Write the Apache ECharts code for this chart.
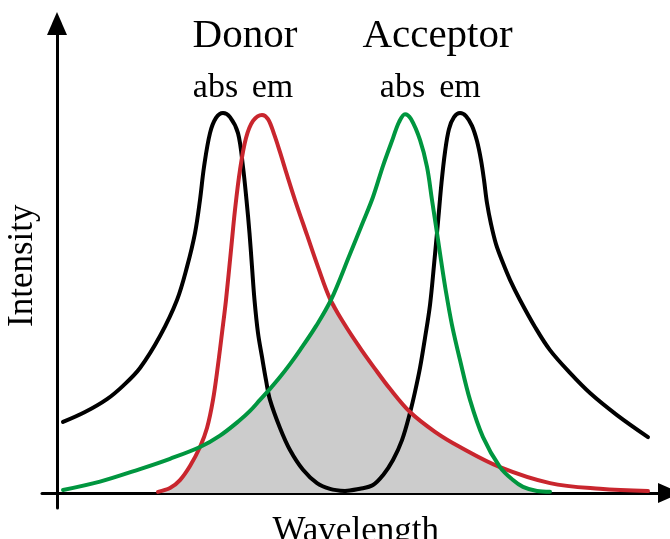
<!DOCTYPE html>
<html>
<head>
<meta charset="utf-8">
<script src="https://cdn.jsdelivr.net/npm/echarts@6/dist/echarts.min.js"></script>
<style>
  html, body { margin: 0; padding: 0; background: #ffffff; }
  #chart { width: 670px; height: 539px; }
</style>
</head>
<body>
<div id="chart"></div>
<script>
// Spectra as [wavelength (arb. units), normalised intensity]
const donorAbs = [
  [6, 18.7], [28, 21.3], [50, 24.7], [66, 28.2], [83, 32.9], [103, 41.3], [120, 50.8],
  [130, 59.5], [138, 68.4], [143, 77.1], [147, 85.8], [153, 94.7], [159, 98.7], [166, 100],
  [173, 98.9], [181, 94.7], [186, 85.8], [189.5, 77.1], [192.5, 68.4], [195, 59.5],
  [197.5, 50.8], [201, 42.1], [205, 35.8], [209, 29.7], [213, 24.5], [223, 17.1],
  [233, 11.3], [246, 6.1], [260, 2.6], [273, 1.1], [288, 0.5]
];
const donorEm = [
  [101, 0.3], [113, 1.3], [123, 3.4], [133, 7.1], [143, 12.1], [150, 17.1], [156, 24.5],
  [161, 33.7], [165, 42.1], [169, 50.8], [174, 63.9], [178, 74.5], [183, 85.0], [189, 93.4],
  [196, 97.9], [205, 99.5], [211, 98.4], [217, 94.5], [223, 89.7], [230, 83.7], [238, 77.1],
  [250, 67.9], [261, 59.5], [273, 51.1], [288, 44.2], [303, 38.2], [316, 33.4], [333, 27.4],
  [353, 21.3], [378, 16.1], [403, 12.1], [443, 6.8], [493, 2.6], [543, 1.1], [591, 0.5]
];
const acceptorAbs = [
  [6, 0.8], [43, 3.0], [83, 6.3], [113, 9.0], [143, 12.1], [163, 15.1], [183, 19.2],
  [193, 21.6], [203, 24.5], [213, 27.4], [223, 30.5], [233, 33.9], [243, 37.6], [259, 43.9],
  [274, 50.8], [293, 62.9], [306, 71.3], [316, 77.9], [326, 86.1], [336, 93.4], [342, 97.6],
  [348, 99.7], [354, 98.4], [363, 92.9], [370, 85.8], [375, 77.1], [380, 68.4], [384, 61.3],
  [389, 52.9], [395, 44.2], [403, 35.0], [413, 24.5], [426, 14.7], [443, 6.8], [456, 3.4],
  [466, 1.6], [480, 0.5], [493, 0.3]
];
const acceptorEm = [
  [288, 0.5], [303, 1.1], [316, 2.1], [326, 4.7], [336, 8.7], [345, 13.9], [353, 21.1],
  [358, 26.6], [363, 32.9], [368, 40.8], [373, 49.5], [377, 60.0], [381, 71.3], [384.5, 81.6],
  [388, 89.7], [392, 95.8], [397, 98.9], [403, 100], [409, 99.2], [415, 96.6], [420, 92.6],
  [424, 87.6], [427, 82.4], [430, 76.3], [434, 70.8], [439, 65.5], [446, 60.5], [453, 56.1],
  [463, 50.8], [478, 43.7], [493, 37.6], [513, 31.6], [533, 26.3], [560, 20.5], [591, 14.7]
];
// Points where donor emission and acceptor absorption cross
const overlapCrossings = [[143, 12.1], [274, 50.8], [443, 6.8]];

const axisTitles = { x: 'Wavelength', y: 'Intensity' };
const groupLabels = ['Donor', 'Acceptor'];
const bandLabels = ['abs', 'em', 'abs', 'em'];

// Spectral overlap: the lower of the two curves between crossings
function between(points, lo, hi) {
  return points.filter(p => p[0] > lo && p[0] < hi);
}
const c = overlapCrossings;
const overlap = [].concat(
  between(donorEm, -Infinity, c[0][0]), [c[0]],
  between(acceptorAbs, c[0][0], c[1][0]), [c[1]],
  between(donorEm, c[1][0], c[2][0]), [c[2]],
  between(acceptorAbs, c[2][0], Infinity)
);

const FONT = 'Liberation Serif';
const chart = echarts.init(document.getElementById('chart'), null, { renderer: 'canvas' });

const axisLine = {
  show: true,
  onZero: true,
  symbol: ['none', 'triangle'],
  symbolSize: [20, 23],
  lineStyle: { color: '#000', width: 3 }
};

function curve(name, data, color) {
  return {
    name: name, type: 'line', data: data, smooth: 0.35,
    showSymbol: false, silent: true,
    lineStyle: { color: color, width: 4, cap: 'round', join: 'round' },
    z: 3
  };
}

function text(str, x, y, size) {
  return {
    type: 'text', x: x, y: y, silent: true,
    style: { text: str, font: size + 'px "' + FONT + '"', fill: '#000', align: 'center', verticalAlign: 'middle' }
  };
}

chart.setOption({
  animation: false,
  backgroundColor: '#ffffff',
  textStyle: { fontFamily: FONT },
  grid: { left: 42, right: 0.5, top: 23.5, bottom: 31, containLabel: false, outerBoundsMode: 'none' },
  xAxis: {
    type: 'value', min: -15, max: 612.5,
    name: axisTitles.x, nameLocation: 'middle', nameGap: 6,
    nameTextStyle: { fontSize: 35, color: '#000', fontFamily: FONT },
    axisLine: axisLine, axisTick: { show: false }, axisLabel: { show: false }, splitLine: { show: false }
  },
  yAxis: {
    type: 'value', min: -3.95, max: 123.55,
    name: axisTitles.y, nameLocation: 'middle', nameGap: 2,
    nameTextStyle: { fontSize: 35, color: '#000', fontFamily: FONT },
    axisLine: axisLine, axisTick: { show: false }, axisLabel: { show: false }, splitLine: { show: false }
  },
  graphic: [
    text(groupLabels[0], 245, 36, 41),
    text(groupLabels[1], 437.5, 36, 41),
    text(bandLabels[0], 215.5, 88.5, 34),
    text(bandLabels[1], 272.5, 88.5, 34),
    text(bandLabels[2], 402.5, 88.5, 34),
    text(bandLabels[3], 460, 88.5, 34)
  ],
  series: [
    {
      name: 'overlap', type: 'line', data: overlap, smooth: 0.35,
      showSymbol: false, silent: true,
      lineStyle: { width: 0, opacity: 0 },
      areaStyle: { color: '#cccccc', opacity: 1 },
      z: 1
    },
    curve('donor absorption', donorAbs, '#000000'),
    curve('acceptor emission', acceptorEm, '#000000'),
    curve('donor emission', donorEm, '#c9262e'),
    curve('acceptor absorption', acceptorAbs, '#00963f')
  ]
});
</script>
</body>
</html>
